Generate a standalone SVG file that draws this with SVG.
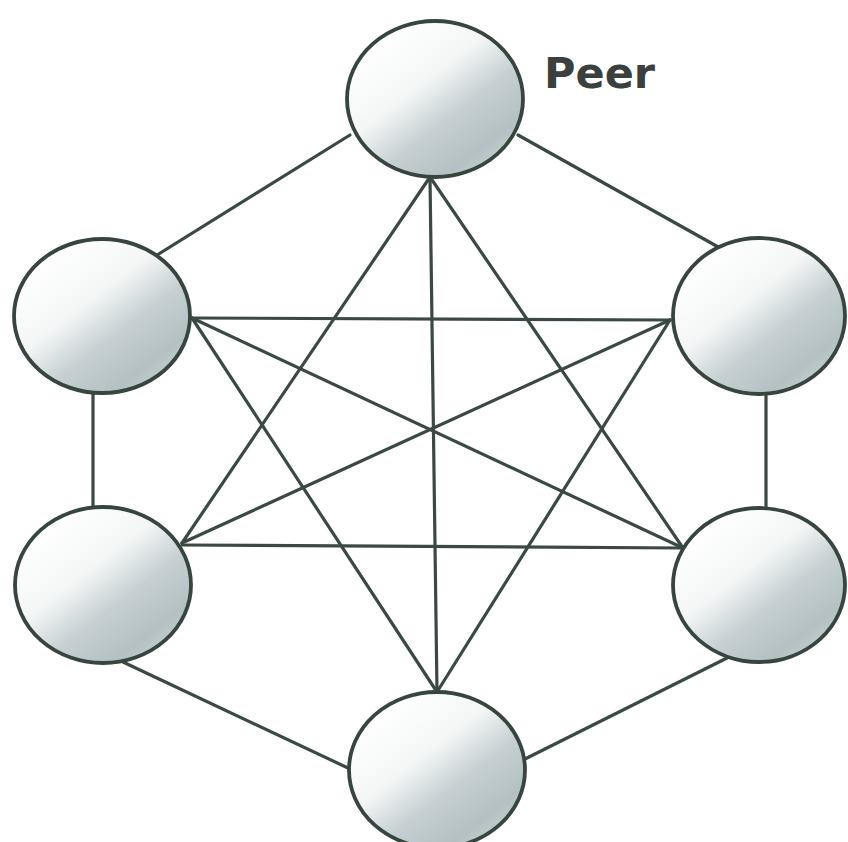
<svg xmlns="http://www.w3.org/2000/svg" width="848" height="842" viewBox="0 0 848 842">
<defs>
<linearGradient id="shade" x1="0.15" y1="0.15" x2="0.85" y2="0.95">
<stop offset="0" stop-color="#ffffff"/>
<stop offset="0.35" stop-color="#f4f6f6"/>
<stop offset="0.6" stop-color="#c6d0d2"/>
<stop offset="0.85" stop-color="#b4c0c2"/>
<stop offset="1" stop-color="#c8d1d3"/>
</linearGradient>
</defs>
<style>
.edge{stroke:#3b4943;stroke-width:3.2;fill:none;stroke-linecap:round}
.peer{fill:url(#shade);stroke:#37453f;stroke-width:3.8}
.label{font-family:"DejaVu Sans",Verdana,sans-serif;font-weight:bold;font-size:43px;fill:#3a403d}
</style>
<rect width="848" height="842" fill="#ffffff"/>
<g id="connectors">
<line class="edge" x1="350" y1="135" x2="157" y2="255"/>
<line class="edge" x1="518" y1="135" x2="720" y2="248"/>
<line class="edge" x1="93" y1="393" x2="93" y2="508"/>
<line class="edge" x1="766" y1="393" x2="766" y2="507"/>
<line class="edge" x1="123" y1="662" x2="348" y2="768"/>
<line class="edge" x1="727" y1="658" x2="523" y2="760"/>
<line class="edge" x1="430" y1="177" x2="182" y2="543"/>
<line class="edge" x1="430" y1="177" x2="437" y2="692"/>
<line class="edge" x1="430" y1="177" x2="683" y2="548"/>
<line class="edge" x1="192" y1="318" x2="670" y2="320"/>
<line class="edge" x1="192" y1="318" x2="683" y2="548"/>
<line class="edge" x1="192" y1="318" x2="437" y2="692"/>
<line class="edge" x1="670" y1="320" x2="182" y2="543"/>
<line class="edge" x1="670" y1="320" x2="437" y2="692"/>
<line class="edge" x1="182" y1="545" x2="683" y2="548"/>
</g>
<g id="peer-top"><ellipse class="peer" cx="435" cy="99" rx="88" ry="78"/></g>
<g id="peer-upper-left"><ellipse class="peer" cx="102" cy="316" rx="88" ry="77"/></g>
<g id="peer-upper-right"><ellipse class="peer" cx="759" cy="316" rx="86" ry="78"/></g>
<g id="peer-lower-left"><ellipse class="peer" cx="103" cy="585" rx="88" ry="78"/></g>
<g id="peer-lower-right"><ellipse class="peer" cx="759" cy="585" rx="86" ry="77"/></g>
<g id="peer-bottom"><ellipse class="peer" cx="437" cy="770" rx="88" ry="78"/></g>
<text class="label" x="544" y="88">Peer</text>
</svg>
